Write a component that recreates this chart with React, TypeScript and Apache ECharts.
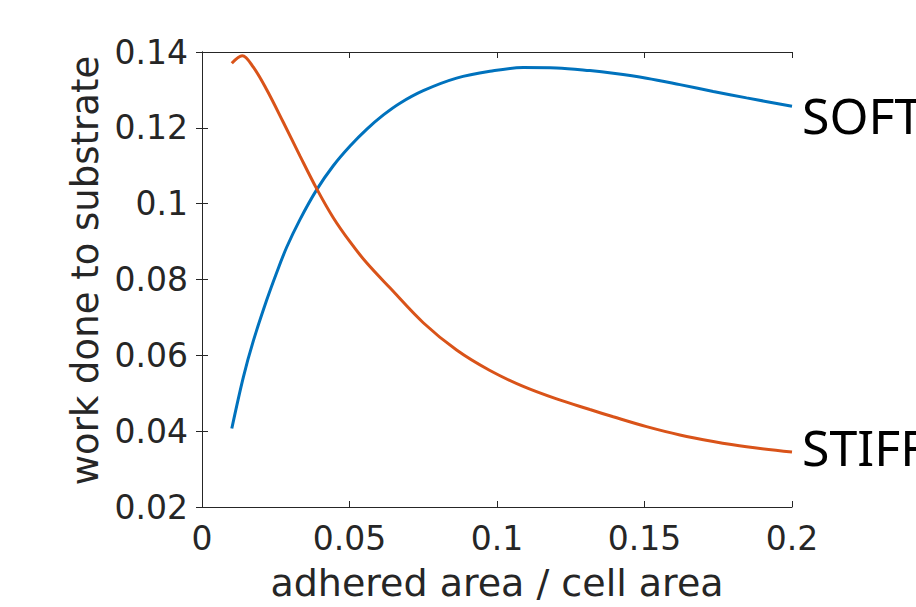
import React, { useEffect, useRef } from "react";
import * as echarts from "echarts";

const stiffX = [0.0101, 0.01366, 0.0174, 0.0219, 0.0276, 0.0332, 0.0389, 0.0445, 0.0502, 0.0558, 0.0637, 0.075, 0.0863, 0.0976, 0.1089, 0.1202, 0.1315, 0.1394, 0.1507, 0.162, 0.1733, 0.1846, 0.2];
const stiffY = [0.13705, 0.13903, 0.136, 0.1301, 0.1214, 0.1126, 0.1039, 0.0963, 0.0899, 0.0844, 0.0778, 0.0686, 0.0614, 0.056, 0.0518, 0.0485, 0.0457, 0.0438, 0.0412, 0.039, 0.0373, 0.0359, 0.0345];

const softX = [0.0101, 0.014, 0.0174, 0.0219, 0.0253, 0.0287, 0.0332, 0.0389, 0.0445, 0.0502, 0.0558, 0.0615, 0.0671, 0.075, 0.0863, 0.0976, 0.1089, 0.1202, 0.1315, 0.1394, 0.1507, 0.162, 0.1733, 0.1846, 0.2];
const softY = [0.0407, 0.0542, 0.0638, 0.0745, 0.0818, 0.0885, 0.0958, 0.1037, 0.11, 0.1152, 0.1196, 0.1234, 0.1265, 0.1298, 0.1331, 0.1349, 0.1359, 0.1358, 0.1351, 0.1344, 0.1331, 0.1314, 0.1296, 0.1279, 0.1257];

const seriesNames = ["SOFT", "STIFF"];
const xName = "adhered area / cell area";
const yName = "work done to substrate";

const AXIS = "#262626";
const tickFont = "DejaVu Sans";

function fmt(v: number) {
  return String(Number(v.toFixed(2)));
}

export default function App() {
  const ref = useRef<HTMLDivElement>(null);
  useEffect(() => {
    if (!ref.current) return;
    const chart = echarts.init(ref.current, undefined, { renderer: "svg" });
    const pairs = (xs: number[], ys: number[]) => xs.map((x, i) => [x, ys[i]]);
    const axisLine = { show: true, lineStyle: { color: AXIS, width: 1 } };
    const tick = { show: true, inside: true, length: 6, lineStyle: { color: AXIS, width: 1 } };
    chart.setOption({
      animation: false,
      backgroundColor: "#ffffff",
      grid: { left: 202, right: 124, top: 52, bottom: 96, containLabel: false },
      xAxis: [
        {
          type: "value",
          min: 0,
          max: 0.2,
          interval: 0.05,
          position: "bottom",
          axisLine,
          axisTick: tick,
          splitLine: { show: false },
          axisLabel: { color: AXIS, fontSize: 33, fontFamily: tickFont, margin: 15, formatter: fmt },
          name: xName,
          nameLocation: "middle",
          nameGap: 57,
          nameTextStyle: { color: AXIS, fontSize: 38, fontFamily: tickFont },
        },
        {
          type: "value",
          min: 0,
          max: 0.2,
          interval: 0.05,
          position: "top",
          axisLine,
          axisTick: tick,
          splitLine: { show: false },
          axisLabel: { show: false },
        },
      ],
      yAxis: [
        {
          type: "value",
          min: 0.02,
          max: 0.14,
          interval: 0.02,
          position: "left",
          axisLine,
          axisTick: tick,
          splitLine: { show: false },
          axisLabel: { color: AXIS, fontSize: 33, fontFamily: tickFont, margin: 14, formatter: fmt },
          name: yName,
          nameLocation: "middle",
          nameGap: 98,
          nameTextStyle: { color: AXIS, fontSize: 37, fontFamily: tickFont, padding: [0, 0, 0, 18] },
        },
        {
          type: "value",
          min: 0.02,
          max: 0.14,
          interval: 0.02,
          position: "right",
          axisLine,
          axisTick: tick,
          splitLine: { show: false },
          axisLabel: { show: false },
        },
      ],
      series: [
        {
          name: seriesNames[0],
          type: "line",
          data: pairs(softX, softY),
          showSymbol: false,
          symbol: "none",
          smooth: 0.35,
          lineStyle: { color: "#0072BD", width: 3 },
          itemStyle: { color: "#0072BD" },
          endLabel: {
            show: true,
            formatter: "{a}",
            color: "#000000",
            fontSize: 50,
            fontFamily: "Noto Sans",
            distance: 10,
            offset: [0, 9],
          },
        },
        {
          name: seriesNames[1],
          type: "line",
          data: pairs(stiffX, stiffY),
          showSymbol: false,
          symbol: "none",
          smooth: 0.35,
          lineStyle: { color: "#D95319", width: 3 },
          itemStyle: { color: "#D95319" },
          endLabel: {
            show: true,
            formatter: "{a}",
            color: "#000000",
            fontSize: 50,
            fontFamily: "Noto Sans",
            distance: 10,
            offset: [0, -5],
          },
        },
      ],
    });
    return () => chart.dispose();
  }, []);
  return (
    <div
      ref={ref}
      style={{ position: "fixed", left: 0, top: 0, width: 916, height: 607, background: "#fff" }}
    />
  );
}
